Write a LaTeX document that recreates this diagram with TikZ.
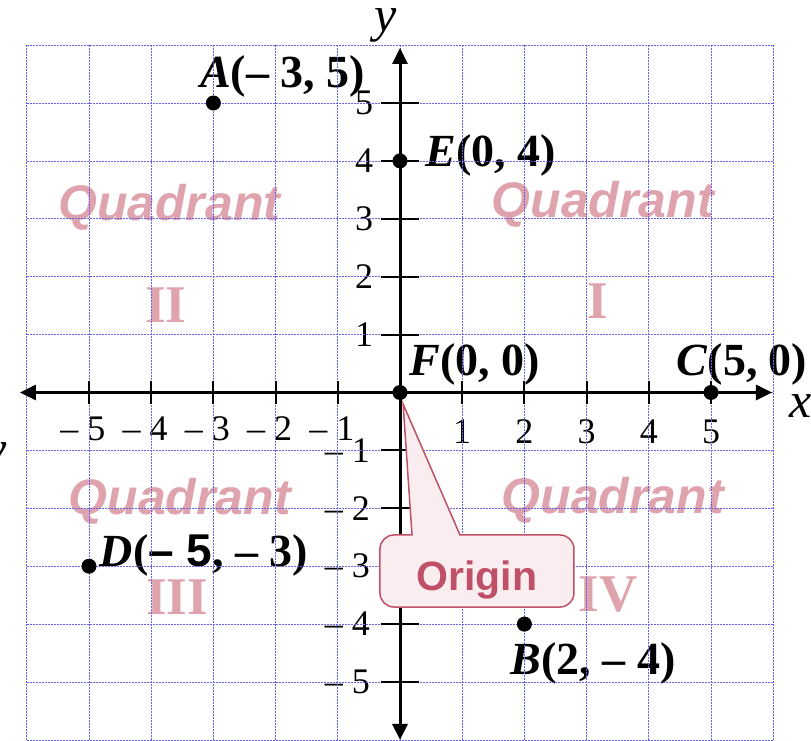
\documentclass[tikz,border=0pt]{standalone}
\usepackage{fontspec}
\setmainfont{Liberation Serif}
\setsansfont{Liberation Sans}
\usetikzlibrary{arrows.meta}
\definecolor{gridblue}{RGB}{100,100,235}
\definecolor{quadpink}{RGB}{223,163,173}
\definecolor{originred}{RGB}{192,80,104}
\definecolor{originfill}{RGB}{250,237,240}
\tikzset{
	ptdot/.style={circle,fill=black,inner sep=0pt,minimum size=15pt},
	ptlabel/.style={font=\fontsize{46}{50}\selectfont\bfseries,inner sep=0pt},
	ticklabel/.style={font=\fontsize{36}{40}\selectfont,inner sep=0pt},
	quadname/.style={font=\fontsize{50}{55}\selectfont\sffamily\bfseries\itshape,text=quadpink,inner sep=0pt,anchor=base},
	quadnum/.style={font=\fontsize{53}{58}\selectfont\bfseries,text=quadpink,inner sep=0pt},
	axislabel/.style={font=\fontsize{50}{55}\selectfont\itshape,inner sep=0pt,anchor=base},
	gridline/.style={gridblue,line width=0.7pt,dash pattern=on 2pt off 1pt},
	axisline/.style={line width=3pt,{Triangle[length=16pt,width=15pt]}-{Triangle[length=16pt,width=15pt]}},
	tickline/.style={line width=2pt},
	calloutbox/.style={draw=originred,fill=originfill,line width=1.5pt},
	origintext/.style={font=\fontsize{41}{45}\selectfont\sffamily\bfseries,text=originred,inner sep=0pt,anchor=base}
}
\begin{document}
\begin{tikzpicture}[x=62.2pt,y=57.9pt]
		\useasboundingbox (-400pt,-348.5pt) rectangle (411pt,392.5pt);
		\node[quadname] (q2) at (-3.71,2.979) {Quadrant};
		\node[quadname] (q1) at (3.26,3.014) {Quadrant};
		\node[quadname] (q3) at (-3.54,-2.115) {Quadrant};
		\node[quadname] (q4) at (3.42,-2.083) {Quadrant};
		\node[quadnum] (n2) at (-3.762,1.511) {II};
		\node[quadnum] (n1) at (3.183,1.580) {I};
		\node[quadnum] (n3) at (-3.585,-3.532) {III};
		\node[quadnum] (n4) at (3.344,-3.497) {IV};
		\foreach \k in {1,...,5}{
			\node[ticklabel] (xp\k) at (\k,-0.68) {\k};
			\node[ticklabel,xshift=-6pt] (xn\k) at (-\k,-0.62) {– \k};
			\node[ticklabel,anchor=east] (yp\k) at (-0.43,\k) {\k};
			\node[ticklabel,anchor=east] (yn\k) at (-0.48,-\k) {– \k};
		}
		\node[ptlabel] (Alab) at (-1.889,5.466) {\textit{A}(– 3, 5)};
		\node[ptlabel] (Elab) at (1.455,4.102) {\textit{E}(0, 4)};
		\node[ptlabel] (Flab) at (1.206,0.492) {\textit{F}(0, 0)};
		\node[ptlabel] (Clab) at (5.498,0.492) {\textit{C}(5, 0)};
		\node[ptlabel] (Dlab) at (-3.151,-2.815) {\textit{D}(\textsf{– 5}, – 3)};
		\node[ptlabel] (Blab) at (3.103,-4.680) {\textit{B}(2, – 4)};
		\node[axislabel] (ylab) at (-0.225,6.24) {y};
		\node[axislabel] (xlab) at (6.447,-0.44) {x};
		\node[axislabel] (ycut) at (-6.495,-1.261) {y};
		\foreach \i in {-6,...,6}{
			\draw[gridline] (\i,-6) -- (\i,6);
			\draw[gridline] (-6,\i) -- (6,\i);
		}
		\coordinate (xl) at (-6.11,0);
		\coordinate (xr) at (5.98,0);
		\coordinate (yt) at (0,5.95);
		\coordinate (yb) at (0,-6);
		\draw[axisline] (xl) -- (xr);
		\draw[axisline] (yb) -- (yt);
		\foreach \i in {-5,...,-1,1,2,...,5}{
			\draw[tickline] (\i,-0.2) -- (\i,0.2);
			\draw[tickline] (-0.3,\i) -- (0.3,\i);
		}
		\node[ptdot] (A) at (-3,5) {};
		\node[ptdot] (E) at (0,4) {};
		\node[ptdot] (F) at (0,0) {};
		\node[ptdot] (C) at (5,0) {};
		\node[ptdot] (D) at (-5,-3) {};
		\node[ptdot] (B) at (2,-4) {};
		\coordinate (tip) at (0.05,-0.2);
		\draw[calloutbox] (0.965,-2.461) [rounded corners=14pt] -- (2.797,-2.461) -- (2.797,-3.705) -- (-0.322,-3.705) -- (-0.322,-2.461) [sharp corners] -- (0.193,-2.461) -- (tip) -- cycle;
		\node[origintext] (origin) at (1.238,-3.428) {Origin};
\end{tikzpicture}
\end{document}
